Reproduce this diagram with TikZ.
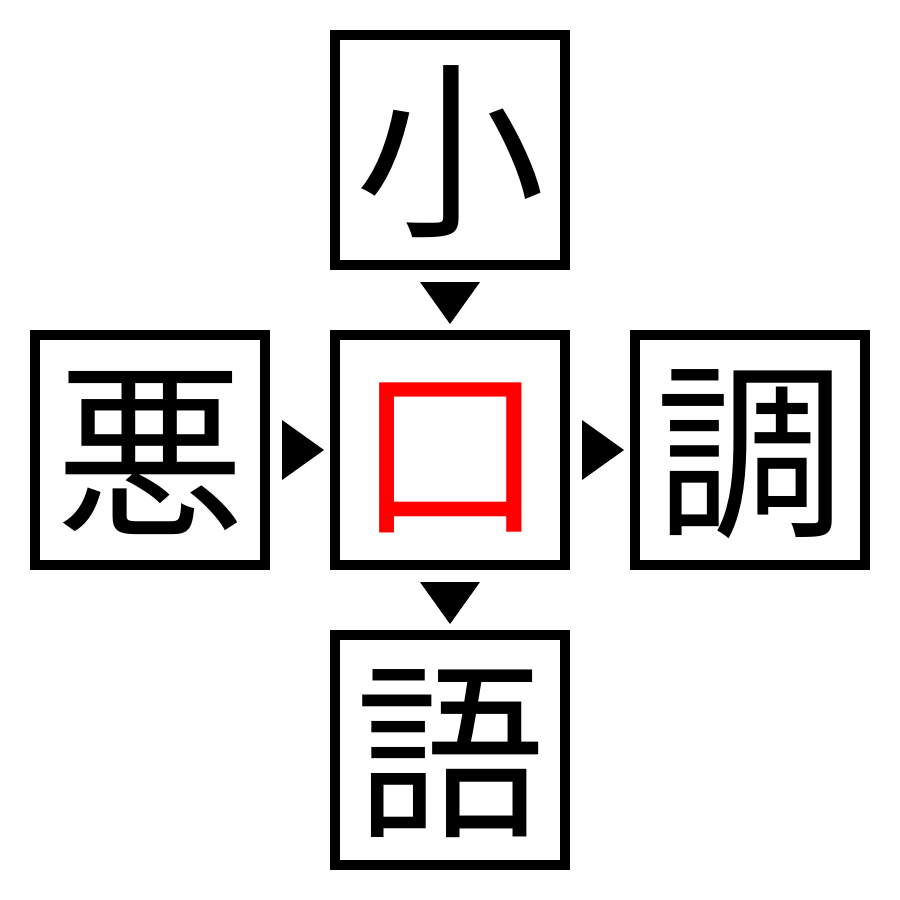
\documentclass[tikz,border=0pt]{standalone}
\usepackage{fontspec}
\newfontfamily\cjk{Noto Sans CJK JP}
\tikzset{every picture/.style={line width=0.75pt}}
\tikzset{
	kanjibox/.style={draw, line width=10pt, minimum size=230pt, inner sep=0pt,
		text height=167pt, text depth=23pt,
		font=\cjk\fontsize{190}{190}\selectfont}}

\begin{document}
\begin{tikzpicture}[x=1pt,y=1pt,yscale=-1,xscale=1]
	\useasboundingbox (0,0) rectangle (900,900);

	% Text Node
	\node [kanjibox] (top) at (450,150) {小};
	% Text Node
	\node [kanjibox] (left) at (150,450) {悪};
	% Text Node
	\node [kanjibox, text={rgb, 255:red, 255; green, 0; blue, 0 }] (mid) at (450,450) {口};
	% Text Node
	\node [kanjibox] (right) at (750,450) {調};
	% Text Node
	\node [kanjibox] (bottom) at (450,750) {語};

	%Shape: Triangle
	\fill (420,282) -- (480,282) -- (450,324) -- cycle ;
	%Shape: Triangle
	\fill (282,420) -- (282,480) -- (324,450) -- cycle ;
	%Shape: Triangle
	\fill (582,420) -- (582,480) -- (624,450) -- cycle ;
	%Shape: Triangle
	\fill (420,582) -- (480,582) -- (450,624) -- cycle ;

\end{tikzpicture}
\end{document}
